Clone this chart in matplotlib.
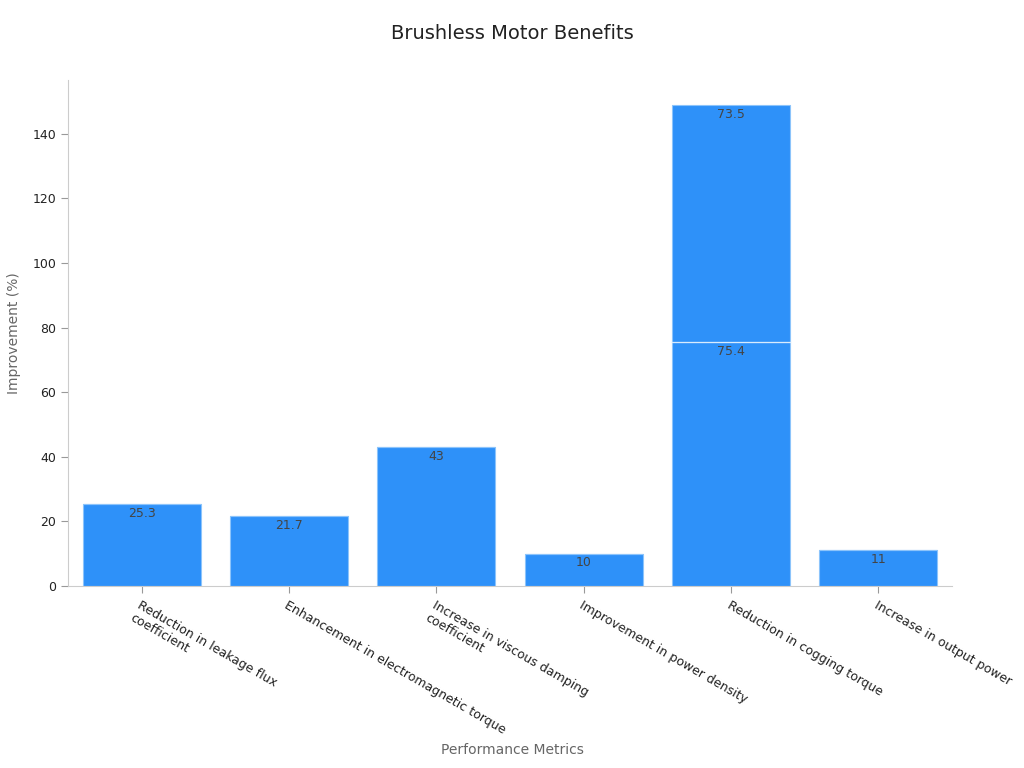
import matplotlib
matplotlib.use("Agg")
import matplotlib.pyplot as plt
import numpy as np

# ---------------------------------------------------------------------- DATA
categories = [
    "Reduction in leakage flux\ncoefficient",
    "Enhancement in electromagnetic torque",
    "Increase in viscous damping\ncoefficient",
    "Improvement in power density",
    "Reduction in cogging torque",
    "Increase in output power",
]
first_values = [25.3, 21.7, 43, 10, 75.4, 11]
second_values = [0, 0, 0, 0, 73.5, 0]

bar_color = "#2e91f9"
edge_color = "#8cc4fb"
label_color = "#444444"

plt.rcParams["font.family"] = "DejaVu Sans"

fig = plt.figure(figsize=(10.24, 7.68), dpi=100)
ax = fig.add_axes([0.0664, 0.237, 0.8633, 0.659])

x = np.arange(len(categories))
bars1 = ax.bar(x, first_values, width=0.8, color=bar_color, edgecolor=edge_color, linewidth=0.8)
bars2 = ax.bar(x, second_values, width=0.8, bottom=first_values, color=bar_color,
               edgecolor=edge_color, linewidth=0.8)

# white separator line on stacked segments
for i, v in enumerate(second_values):
    if v > 0:
        ax.plot([x[i] - 0.4, x[i] + 0.4], [first_values[i]] * 2, color="#d8ebfd", lw=0.9, zorder=3)

def label_bars(bars, vals, bottoms):
    for b, v, bt in zip(bars, vals, bottoms):
        if v <= 0:
            continue
        txt = ("%g" % v)
        ax.annotate(txt, (b.get_x() + b.get_width() / 2, bt + v), xytext=(0, -2),
                    textcoords="offset points", ha="center", va="top",
                    fontsize=9, color=label_color)

label_bars(bars1, first_values, [0] * len(first_values))
label_bars(bars2, second_values, first_values)

ax.set_xlim(-0.5, 5.5)
ax.set_ylim(0, 156.7)
ax.set_yticks(np.arange(0, 141, 20))
ax.set_xticks(x)
ax.set_xticklabels(categories, rotation=-30, ha="left", rotation_mode="anchor",
                   fontsize=9, color="#222222")
ax.tick_params(axis="y", labelsize=9, colors="#222222", length=5, color="#999999")
ax.tick_params(axis="x", length=5, color="#999999", pad=4)

for s in ["top", "right"]:
    ax.spines[s].set_visible(False)
for s in ["left", "bottom"]:
    ax.spines[s].set_color("#cccccc")

ax.set_ylabel("Improvement (%)", fontsize=10, color="#666666", labelpad=8)
fig.text(0.5, 0.023, "Performance Metrics", ha="center", va="center",
         fontsize=10, color="#666666")
fig.text(0.5, 0.957, "Brushless Motor Benefits", ha="center", va="center",
         fontsize=14, color="#222222")

fig.savefig("out.png", dpi=100)
